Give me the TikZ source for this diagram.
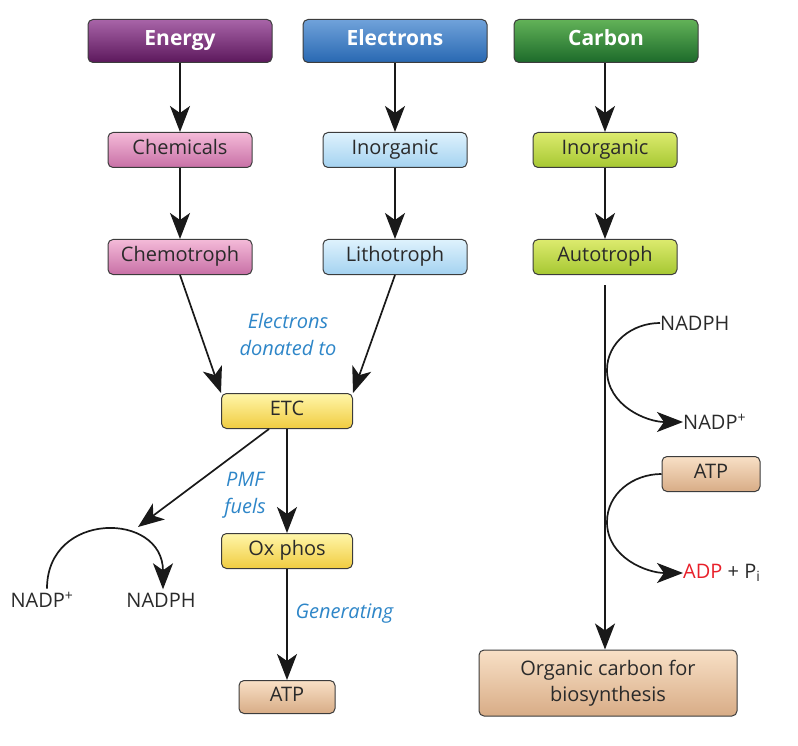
\documentclass[tikz,border=0pt]{standalone}
\usepackage{fontspec}
\setmainfont{Open Sans}
\usepackage{tikz}
\usetikzlibrary{arrows.meta}

\definecolor{lineGray}{HTML}{3C3C3C}
\definecolor{textGray}{HTML}{2A2A2A}
\definecolor{noteBlue}{HTML}{2E86C8}
\definecolor{adpRed}{HTML}{E8202A}

\begin{document}
\begin{tikzpicture}[
    x=1pt, y=-1pt,
    every node/.style={font=\fontsize{20}{23}\selectfont, text=textGray},
    box/.style={draw=lineGray, line width=1pt, rounded corners=5pt,
                minimum width=144pt, minimum height=35pt, inner sep=2pt,
                text height=14pt, text depth=5pt},
    head/.style={box, minimum width=184pt, minimum height=43pt,
                 text=white, font=\fontsize{21}{24}\selectfont\bfseries},
    purpleHead/.style={head, top color={rgb,255:red,168;green,100;blue,168}, bottom color={rgb,255:red,92;green,24;blue,92}},
    blueHead/.style={head, top color={rgb,255:red,112;green,162;blue,218}, bottom color={rgb,255:red,40;green,104;blue,178}},
    greenHead/.style={head, top color={rgb,255:red,98;green,178;blue,88}, bottom color={rgb,255:red,28;green,106;blue,42}},
    pinkBox/.style={box, top color={rgb,255:red,244;green,186;blue,216}, bottom color={rgb,255:red,200;green,112;blue,166}},
    skyBox/.style={box, top color={rgb,255:red,222;green,242;blue,253}, bottom color={rgb,255:red,164;green,210;blue,240}},
    limeBox/.style={box, top color={rgb,255:red,220;green,234;blue,110}, bottom color={rgb,255:red,166;green,200;blue,50}},
    yellowBox/.style={box, minimum width=131pt, top color={rgb,255:red,255;green,246;blue,170}, bottom color={rgb,255:red,240;green,204;blue,64}},
    tanBox/.style={box, top color={rgb,255:red,248;green,224;blue,198}, bottom color={rgb,255:red,216;green,172;blue,134}},
    note/.style={text=noteBlue, font=\fontsize{20}{27}\selectfont\itshape, align=center},
    flow/.style={-{Stealth[length=26pt,width=20pt,inset=7pt]}, line width=1.7pt, draw=black!90}
]
\useasboundingbox (0,0) rectangle (798,746);

% ========== 顶部三个类别 ==========
\node[purpleHead] (energy)    at (180,41) {Energy};
\node[blueHead]   (electrons) at (395,41) {Electrons};
\node[greenHead]  (carbon)    at (606,41) {Carbon};

% ========== 第二、三行 ==========
\node[pinkBox]  (chemicals)  at (180,150) {Chemicals};
\node[skyBox]   (inorgE)     at (395,150) {Inorganic};
\node[limeBox]  (inorgC)     at (605,150) {Inorganic};

\node[pinkBox]  (chemotroph) at (180,257) {Chemotroph};
\node[skyBox]   (lithotroph) at (395,257) {Lithotroph};
\node[limeBox]  (autotroph)  at (605,257) {Autotroph};

\draw[flow] (energy) -- (chemicals);
\draw[flow] (electrons) -- (inorgE);
\draw[flow] (carbon.south -| inorgC) -- (inorgC);
\draw[flow] (chemicals) -- (chemotroph);
\draw[flow] (inorgE) -- (lithotroph);
\draw[flow] (inorgC) -- (autotroph);

% ========== ETC 与氧化磷酸化 ==========
\node[yellowBox] (etc)    at (287,411) {ETC};
\node[yellowBox] (oxphos) at (287,551) {Ox phos};
\node[tanBox, minimum width=96pt, minimum height=33pt] (atpL) at (287,697) {ATP};

\draw[flow] (chemotroph.south) -- (etc.north west);
\draw[flow] (lithotroph.south) -- (etc.north east);
\node[note] (donated) at (288,334) {Electrons\\donated to};

\draw[flow] (etc) -- (oxphos);
\draw[flow] (oxphos) -- (atpL);
\node[note] (pmf) at (245,495) {PMF\\fuels};
\node[note, anchor=west] (generating) at (292,614) {Generating};

% ========== 左侧 NADP+ -> NADPH ==========
\node (nadpL)  at (42,600) {NADP\textsuperscript{+}};
\node (nadphL) at (161,600) {NADPH};
\coordinate (fuelEnd) at (138,527);
\draw[flow] (etc.south) ++(-18,0) coordinate (etcOut) -- (fuelEnd);
\draw[flow] ([xshift=5pt]nadpL.north) .. controls +(0,-78) and +(0,-78) .. ([xshift=2pt]nadphL.north);

% ========== 右侧碳固定 ==========
\node[tanBox, minimum width=258pt, minimum height=66pt, align=center,
      text height=, text depth=,
      font=\fontsize{20}{26}\selectfont] (organic) at (608,683) {Organic carbon for\\biosynthesis};
\draw[flow, shorten <=10pt] (autotroph.south) -- (organic.north -| autotroph);

\node[anchor=west, inner sep=0pt] (nadphR) at (660,323) {NADPH};
\node[anchor=west, inner sep=0pt] (nadpR)  at (683,422) {NADP\textsuperscript{+}};
\coordinate (touch1) at (607,370);
\draw[flow] (nadphR.west) to[out=180,in=90] (touch1) to[out=-90,in=180] (nadpR.west);

\node[tanBox, minimum width=98pt, minimum height=35pt] (atpR) at (711,474) {ATP};
\node[anchor=west, inner sep=0pt] (adp) at (683,573) {\textcolor{adpRed}{ADP} + P\textsubscript{i}};
\coordinate (touch2) at (607,522);
\draw[flow] (atpR.west) to[out=180,in=90] (touch2) to[out=-90,in=180] (adp.west);

\end{tikzpicture}
\end{document}
